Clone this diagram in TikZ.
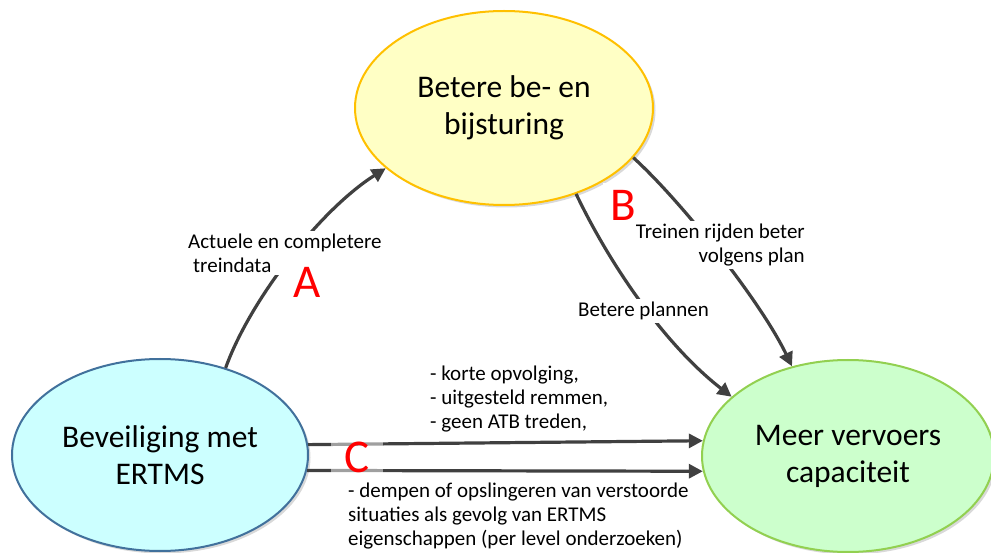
\documentclass[tikz,border=0pt]{standalone}
\usepackage{fontspec}
\setmainfont{Carlito}
\usetikzlibrary{arrows.meta,shapes.geometric,shadows}
\definecolor{yfill}{RGB}{255,255,197}
\definecolor{yline}{RGB}{255,192,0}
\definecolor{bfill}{RGB}{204,255,255}
\definecolor{bline}{RGB}{65,113,156}
\definecolor{gfill}{RGB}{204,255,204}
\definecolor{gline}{RGB}{146,208,80}
\definecolor{agrey}{RGB}{64,64,64}
\begin{document}
\begin{tikzpicture}[x=1pt,y=-1pt,
  ell/.style={ellipse, line width=2pt, inner sep=0pt, align=center,
    font=\fontsize{31.5}{37}\selectfont,
    drop shadow={shadow xshift=2.5pt,shadow yshift=-2.5pt,fill=black,opacity=0.15}},
  conn/.style={draw=agrey, line width=3.2pt, -{Triangle[length=14pt,width=14pt]}},
  lbl/.style={font=\fontsize{21}{24}\selectfont, inner sep=0pt},
  lblbox/.style={lbl, fill=white, inner sep=3pt},
  bigletter/.style={text=red, font=\fontsize{47}{50}\selectfont, inner sep=0pt}]
\useasboundingbox (0,0) rectangle (991,553);
\fill[white] (0,0) rectangle (991,553);

\node[ell, fill=yfill, draw=yline, minimum width=298pt, minimum height=194pt] (bij) at (504,108) {Betere be- en\\bijsturing};
\node[ell, fill=bfill, draw=bline, minimum width=296pt, minimum height=192pt] (ertms) at (160,455) {Beveiliging met\\ERTMS};
\node[ell, fill=gfill, draw=gline, minimum width=292pt, minimum height=192pt] (cap) at (848,456) {Meer vervoers\\capaciteit};

% A
\draw[conn] (ertms.53.4) .. controls (250,300) and (320,210) .. (bij.207.1);
% B
\draw[conn] (bij.-50.1) .. controls (610,265) and (665,345) .. (cap.153);
\draw[conn] (bij.-21.6) .. controls (680,200) and (760,300) .. (cap.122.2);
% C
\draw[conn] (ertms.4.7) -- (cap.174.9);
\draw[conn] (ertms.-6.25) -- (cap.186.3);

\node[bigletter, fill=white, inner sep=7pt] (kb) at (623,205) {B};
\node[bigletter, fill=white, fill opacity=0.5, text opacity=1, inner xsep=13pt, inner ysep=14pt] (kc) at (357,457) {C};

% labels
\node[lblbox, anchor=west, align=left] (la) at (185,253) {Actuele en completere\\\hspace*{5pt}treindata};
\node[lblbox, anchor=base west] (lb1) at (575,317) {Betere plannen};
\node[lblbox, anchor=east, align=right] (lb2) at (808,245) {Treinen rijden beter\\volgens plan};
\node[lbl, anchor=west, align=left] (lc1) at (430,399) {- korte opvolging,\\- uitgesteld remmen,\\- geen ATB treden,};
\node[lbl, anchor=west, align=left] (lc2) at (348,516) {- dempen of opslingeren van verstoorde\\situaties als gevolg van ERTMS\\eigenschappen (per level onderzoeken)};

\node[bigletter] (ka) at (307,282) {A};
\end{tikzpicture}
\end{document}
